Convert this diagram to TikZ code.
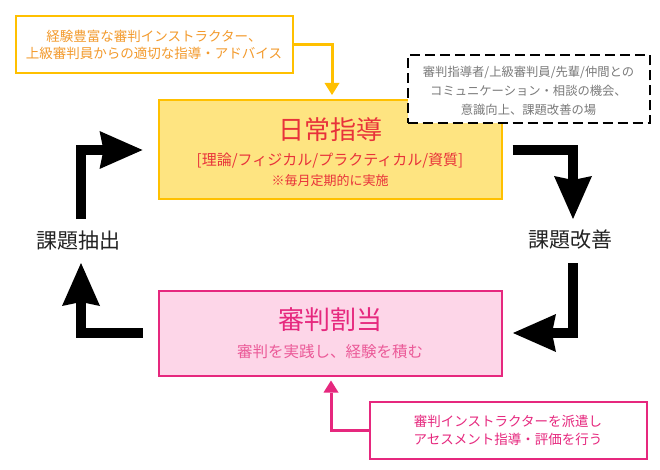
\documentclass[tikz,border=0pt]{standalone}
\usepackage{fontspec}
\setmainfont{Noto Sans CJK JP}
\usetikzlibrary{arrows.meta,calc}
\definecolor{goldline}{HTML}{FFC000}
\definecolor{orangetext}{HTML}{F39A2C}
\definecolor{yellowfill}{HTML}{FEE481}
\definecolor{redtext}{HTML}{E8323A}
\definecolor{pinkline}{HTML}{E6287E}
\definecolor{pinkfill}{HTML}{FDD6E8}
\definecolor{pinktext}{HTML}{E6287E}
\definecolor{pinksub}{HTML}{EB5A98}
\definecolor{graytext}{HTML}{7A7A7A}
\definecolor{labeltext}{HTML}{222222}
\newcommand{\myfs}[2]{\fontsize{#1pt}{#2pt}\selectfont}
\begin{document}
\begin{tikzpicture}[x=1pt,y=-1pt,
  boxbase/.style={rectangle, inner sep=0pt, line width=2pt, align=center},
  goldbox/.style={boxbase, draw=goldline, fill=white},
  yellowbox/.style={boxbase, draw=goldline, fill=yellowfill},
  pinkbox/.style={boxbase, draw=pinkline, fill=pinkfill},
  pinknote/.style={boxbase, draw=pinkline, fill=white},
  dashbox/.style={boxbase, draw=black, fill=white, dash pattern=on 10pt off 5pt},
  cyclelabel/.style={font=\myfs{21}{24}, text=labeltext, inner sep=0pt},
  bigarrow/.style={draw=black, line width=10pt, line join=miter,
    -{Stealth[length=43pt,width=38pt,inset=4pt,line width=0pt]}},
  goldarrow/.style={draw=goldline, line width=3pt, line join=miter,
    -{Triangle[length=12pt,width=15pt,line width=0pt]}},
  pinkarrow/.style={draw=pinkline, line width=3pt, line join=miter,
    -{Triangle[length=12pt,width=15pt,line width=0pt]}}
]
\useasboundingbox (0,0) rectangle (660,470);

% main boxes
\node[yellowbox, minimum width=343pt, minimum height=99pt] (nichijo) at (330,149.5) {};
\node[font=\myfs{26}{30}, text=redtext, inner sep=0pt] (nichijoT) at (330,130) {日常指導};
\node[font=\myfs{15}{17}, text=redtext, inner sep=0pt] (nichijoS) at (330,160.5) {[理論/フィジカル/プラクティカル/資質]};
\node[font=\myfs{13}{15}, text=redtext, inner sep=0pt] (nichijoN) at (330,180.5) {※毎月定期的に実施};

\node[pinkbox, minimum width=343pt, minimum height=85pt] (shinpan) at (330,333) {};
\node[font=\myfs{26}{30}, text=pinktext, inner sep=0pt] (shinpanT) at (330,320) {審判割当};
\node[font=\myfs{15.5}{18}, text=pinksub, inner sep=0pt] (shinpanS) at (330,352) {審判を実践し、経験を積む};

% notes
\node[goldbox, minimum width=277pt, minimum height=57pt, font=\myfs{13.5}{17.6}, text=orangetext] (note1) at (154,45)
  {経験豊富な審判インストラクター、\\上級審判員からの適切な指導・アドバイス};

\node[dashbox, minimum width=242pt, minimum height=68pt] (note2) at (528.5,89.5) {};
\node[font=\myfs{12.3}{19}, text=graytext, align=center, inner sep=0pt] (note2T) at (528.5,91)
  {審判指導者/上級審判員/先輩/仲間との\\コミュニケーション・相談の機会、\\意識向上、課題改善の場};

\node[pinknote, minimum width=277pt, minimum height=57pt, font=\myfs{13.5}{18.3}, text=pinktext] (note3) at (508,430.5)
  {審判インストラクターを派遣し\\アセスメント指導・評価を行う};

% cycle labels
\node[cyclelabel] (kadai1) at (78,240.5) {課題抽出};
\node[cyclelabel] (kadai2) at (570,239.5) {課題改善};

% thin arrows
\draw[goldarrow] (note1.east) -| ($(nichijo.north)+(2,-4)$);
\draw[pinkarrow] (note3.west) -| ($(shinpan.south)+(1,4)$);

% cycle arrows
\draw[bigarrow] ($(kadai1.center)+(3,-21.5)$) |- ($(nichijo.west)+(-15,0.5)$);
\draw[bigarrow] ($(nichijo.east)+(10,0.5)$) -| ($(kadai2.center)+(3,-20.5)$);
\draw[bigarrow] ($(kadai2.center)+(3,23.5)$) |- ($(shinpan.east)+(10.5,0)$);
\draw[bigarrow] ($(shinpan.west)+(-15,0)$) -| ($(kadai1.center)+(3,22.5)$);
\end{tikzpicture}
\end{document}
